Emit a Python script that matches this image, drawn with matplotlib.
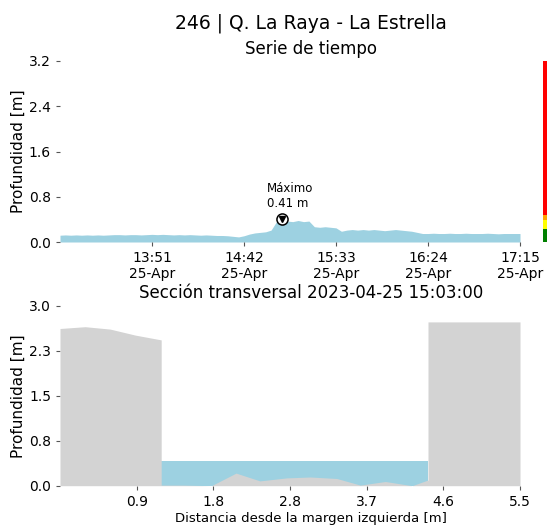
import pandas as pd
import matplotlib
matplotlib.use('Agg')
import matplotlib.pyplot as plt
import matplotlib.dates as mdates

station_name = '246 | Q. La Raya - La Estrella'
section_time = '2023-04-25 15:03:00'

# depth series, one reading every 3 minutes from 13:00 to 17:15
ts_start = '2023-04-25 13:00'
ts_end = '2023-04-25 17:15'
depth = [0.12, 0.125, 0.12, 0.125, 0.12, 0.125, 0.12, 0.125, 0.12, 0.125,
         0.13, 0.13, 0.125, 0.13, 0.13, 0.125, 0.13, 0.135, 0.13, 0.135,
         0.13, 0.125, 0.13, 0.125, 0.13, 0.125, 0.12, 0.125, 0.12, 0.115,
         0.115, 0.11, 0.10, 0.09, 0.11, 0.14, 0.16, 0.17, 0.18, 0.21,
         0.36, 0.41, 0.37, 0.36, 0.38, 0.36, 0.37, 0.27, 0.26, 0.27,
         0.26, 0.25, 0.19, 0.21, 0.22, 0.21, 0.22, 0.21, 0.22, 0.21,
         0.20, 0.21, 0.22, 0.21, 0.20, 0.19, 0.17, 0.15, 0.15, 0.155,
         0.15, 0.15, 0.155, 0.15, 0.15, 0.155, 0.15, 0.15, 0.15, 0.155,
         0.15, 0.145, 0.15, 0.15, 0.15, 0.15]
max_time = '2023-04-25 15:03'
max_depth = 0.41

time_ticks = ['2023-04-25 13:51', '2023-04-25 14:42', '2023-04-25 15:33',
              '2023-04-25 16:24', '2023-04-25 17:15']
depth_ticks = [0.0, 0.8, 1.6, 2.4, 3.2]

# alert bands next to the series
alert_levels = [0.0, 0.23, 0.39, 0.47, 3.2]
alert_colors = ['green', 'yellow', 'orange', 'red']

# cross section: distance from left bank and bed elevation
station = [0.0, 0.3, 0.6, 0.9, 1.21, 1.21, 1.47, 1.81, 2.105, 2.39, 2.71,
           2.99, 3.31, 3.59, 3.89, 4.21, 4.40, 4.40, 5.5]
bed = [2.62, 2.65, 2.61, 2.51, 2.43, 0.01, 0.01, 0.0, 0.21, 0.08, 0.13,
       0.145, 0.12, 0.01, 0.07, 0.0, 0.095, 2.73, 2.73]
water_level = 0.41
channel = [1.21, 4.40]

sec_xticks = [0.917, 1.833, 2.75, 3.667, 4.583, 5.5]
sec_xlabels = ['0.9', '1.8', '2.8', '3.7', '4.6', '5.5']
sec_yticks = [0.0, 0.75, 1.5, 2.25, 3.0]
sec_ylabels = ['0.0', '0.8', '1.5', '2.3', '3.0']

water_color = '#9dd1e1'
ground_color = '#d3d3d3'

times = pd.date_range(ts_start, ts_end, freq='3min')

fig = plt.figure(figsize=(5.47, 5.27), dpi=100)

# ------------------------------------------------------------------
# time series
ax = fig.add_axes([60 / 547, 1 - 242 / 527, 460 / 547, 181 / 527])
ax.fill_between(times, 0, depth, color=water_color, lw=0)
mt = pd.Timestamp(max_time)
ax.plot(mt, max_depth, 'o', ms=8, mfc='white', mec='black', mew=1.1, zorder=5)
ax.plot(mt, max_depth, 'v', ms=4, color='black', zorder=6)
ax.annotate('Máximo\n%.2f m' % max_depth, xy=(mt, max_depth), xytext=(-11, 6),
            textcoords='offset points', ha='left', va='bottom', fontsize=8.5)

ax.set_xlim(pd.Timestamp(ts_start), pd.Timestamp(ts_end))
ax.set_ylim(0, 3.2)
ax.set_xticks(pd.to_datetime(time_ticks))
ax.xaxis.set_major_formatter(mdates.DateFormatter('%H:%M\n%d-%b'))
ax.set_yticks(depth_ticks)
ax.set_yticklabels(['%.1f' % v for v in depth_ticks])
ax.tick_params(labelsize=10, length=3, color='#555555')
for s in ax.spines.values():
    s.set_visible(False)
ax.set_ylabel('Profundidad [m]', fontsize=11, labelpad=2)

# alert color bar
cax = fig.add_axes([543 / 547, 1 - 242 / 527, 0.02, 181 / 527])
for lo, hi, c in zip(alert_levels[:-1], alert_levels[1:], alert_colors):
    cax.bar(0, hi - lo, bottom=lo, width=1, color=c, lw=0)
cax.set_xlim(-0.5, 0.5)
cax.set_ylim(0, 3.2)
cax.axis('off')

# ------------------------------------------------------------------
# cross section
ax2 = fig.add_axes([60 / 547, 1 - 485.7 / 527, 460 / 547, 180 / 527])
ax2.fill_between(channel, 0, water_level, color=water_color, lw=0, zorder=1)
ax2.fill_between(station, 0, bed, color=ground_color, lw=0, zorder=2)
ax2.set_xlim(0, 5.5)
ax2.set_ylim(0, 3.0)
ax2.set_xticks(sec_xticks)
ax2.set_xticklabels(sec_xlabels)
ax2.set_yticks(sec_yticks)
ax2.set_yticklabels(sec_ylabels)
ax2.tick_params(labelsize=10, length=3, color='#555555')
for s in ax2.spines.values():
    s.set_visible(False)
ax2.set_ylabel('Profundidad [m]', fontsize=11, labelpad=2)
ax2.set_xlabel('Distancia desde la margen izquierda [m]', fontsize=9.5)
ax2.xaxis.set_label_coords((311 - 60) / 460, -0.146)

# titles
fig.text(311 / 547, 1 - 28.3 / 527, station_name, ha='center', va='baseline', fontsize=13.5)
fig.text(311 / 547, 1 - 54 / 527, 'Serie de tiempo', ha='center', va='baseline', fontsize=12)
fig.text(311 / 547, 1 - 298.3 / 527, 'Sección transversal ' + section_time,
         ha='center', va='baseline', fontsize=12)

fig.savefig('out.png', dpi=100)
